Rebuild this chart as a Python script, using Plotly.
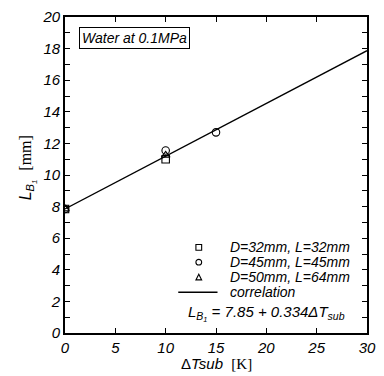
import plotly.graph_objects as go

# data
dt_d32 = [0, 10]
lb_d32 = [7.85, 11.0]
dt_d45 = [0, 10, 15]
lb_d45 = [7.85, 11.55, 12.7]
dt_d50 = [0, 10]
lb_d50 = [7.85, 11.25]
corr_x = [0, 30]
corr_a, corr_b = 7.85, 0.334
corr_y = [corr_a + corr_b * v for v in corr_x]

names = ["D=32mm, L=32mm", "D=45mm, L=45mm", "D=50mm, L=64mm", "correlation"]

SANS = "Liberation Sans, Arial, sans-serif"

fig = go.Figure()
mk = dict(size=7.5, color="black", line=dict(color="black", width=1.1))
fig.add_trace(go.Scatter(x=dt_d32, y=lb_d32, mode="markers", name=names[0],
                         marker=dict(symbol="square-open", **mk)))
fig.add_trace(go.Scatter(x=dt_d45, y=lb_d45, mode="markers", name=names[1],
                         marker=dict(symbol="circle-open", **mk)))
fig.add_trace(go.Scatter(x=dt_d50, y=lb_d50, mode="markers", name=names[2],
                         marker=dict(symbol="triangle-up-open", **mk)))
fig.add_trace(go.Scatter(x=corr_x, y=corr_y, mode="lines", name=names[3],
                         line=dict(color="black", width=1.3)))

axis_common = dict(showline=True, linecolor="black", linewidth=1.8, mirror="ticks",
                   ticks="inside", ticklen=5, tickwidth=1.2, tickcolor="black",
                   showgrid=False, zeroline=False,
                   tickfont=dict(family=SANS, size=15, color="black", style="italic"))

fig.update_xaxes(range=[0, 30], tickvals=[0, 5, 10, 15, 20, 25, 30], **axis_common)
fig.update_yaxes(range=[0, 20], tickvals=list(range(0, 21, 2)),
                 minor=dict(tickvals=list(range(1, 20, 2)), ticks="inside", ticklen=5,
                            tickwidth=1.2, tickcolor="black"),
                 **axis_common)

fig.update_layout(
    width=384, height=376,
    margin=dict(l=65, r=12, t=8, b=43),
    plot_bgcolor="white", paper_bgcolor="white",
    font=dict(family=SANS, color="black"),
    showlegend=False,
)

# legend (drawn manually to match compact row spacing)
key_x = 0.443
text_x = 0.541
row_y = [0.271, 0.224, 0.177, 0.129]
s = 0.0095  # half size of key symbols in paper x units
sy = s * 307 / 325
fig.add_shape(type="rect", xref="paper", yref="paper",
              x0=key_x - s, x1=key_x + s, y0=row_y[0] - sy, y1=row_y[0] + sy,
              line=dict(color="black", width=1.1))
fig.add_shape(type="circle", xref="paper", yref="paper",
              x0=key_x - s, x1=key_x + s, y0=row_y[1] - sy, y1=row_y[1] + sy,
              line=dict(color="black", width=1.1))
fig.add_shape(type="path", xref="paper", yref="paper",
              path=f"M {key_x - s} {row_y[2] - sy} L {key_x + s} {row_y[2] - sy} L {key_x} {row_y[2] + sy} Z",
              line=dict(color="black", width=1.1))
fig.add_shape(type="line", xref="paper", yref="paper",
              x0=0.375, x1=0.505, y0=row_y[3], y1=row_y[3],
              line=dict(color="black", width=1.3))
for nm, yy in zip(names, row_y):
    fig.add_annotation(xref="paper", yref="paper", x=text_x, y=yy, xanchor="left", yanchor="middle",
                       text=nm, showarrow=False,
                       font=dict(family=SANS, size=14, color="black", style="italic"))

fig.add_annotation(xref="paper", yref="paper", x=0.935, y=0.062, xanchor="right", yanchor="middle",
                   text="L<sub>B<sub>1</sub></sub> = 7.85 + 0.334ΔT<sub>sub</sub>", showarrow=False,
                   font=dict(family=SANS, size=15, color="black", style="italic"))

fig.add_annotation(xref="paper", yref="paper", x=0.045, y=0.968, xanchor="left", yanchor="top",
                   text="Water at 0.1MPa", showarrow=False,
                   font=dict(family=SANS, size=14, color="black", style="italic"),
                   bordercolor="black", borderwidth=1, borderpad=2, bgcolor="white")

fig.add_annotation(xref="paper", yref="paper", x=-0.124, y=0.523, xanchor="center", yanchor="middle",
                   textangle=-90, showarrow=False,
                   text="L<sub>B<sub>1</sub></sub>  <span style='font-family:Liberation Serif;font-style:normal'>[mm]</span>",
                   font=dict(family=SANS, size=16, color="black", style="italic"))

fig.add_annotation(xref="paper", yref="paper", x=0.5, y=-0.098, xanchor="center", yanchor="middle",
                   showarrow=False,
                   text="<span style='font-style:normal'>Δ</span>Tsub  <span style='font-family:Liberation Serif;font-style:normal'>[K]</span>",
                   font=dict(family=SANS, size=15, color="black", style="italic"))

fig.write_html("out.html", config={"displayModeBar": False},
               post_script="document.body.style.margin='0';")
